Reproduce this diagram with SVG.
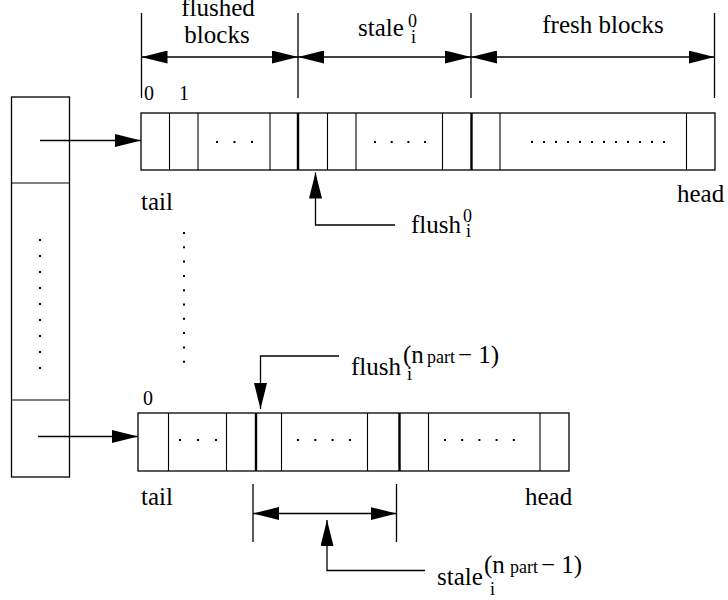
<svg xmlns="http://www.w3.org/2000/svg" width="728" height="600" viewBox="0 0 728 600" font-family="'Liberation Serif', 'Times New Roman', 'DejaVu Serif', serif">
  <style>
    .box { fill: #fff; stroke: #000; stroke-width: 1.3; }
    .div { stroke: #000; stroke-width: 1.1; }
    .thick { stroke: #000; stroke-width: 2.4; }
    .ln { fill: none; stroke: #000; stroke-width: 1.3; }
    .dots { stroke: #000; stroke-width: 2; fill: none; }
    .t { font-size: 25px; font-family: 'Liberation Serif', 'Times New Roman', 'DejaVu Serif', serif; }
    .n { font-size: 20px; font-family: 'Liberation Serif', 'Times New Roman', 'DejaVu Serif', serif; }
    .s { font-size: 18px; font-family: 'Liberation Serif', 'Times New Roman', 'DejaVu Serif', serif; }
  </style>
  <defs>
    <marker id="ah" markerUnits="userSpaceOnUse" markerWidth="26" markerHeight="13" refX="26" refY="6.5" orient="auto-start-reverse">
      <path d="M0,0 L26,6.5 L0,13 z" fill="#000"/>
    </marker>
  </defs>
  <rect width="728" height="600" fill="#fff"/>

  <!-- pointer table on the left -->
  <g id="table">
    <rect class="box" x="11.5" y="97" width="58" height="380"/>
    <line class="div" x1="11.5" y1="183" x2="69.5" y2="183"/>
    <line class="div" x1="11.5" y1="400" x2="69.5" y2="400"/>
    <line class="dots" x1="40" y1="239" x2="40" y2="371" stroke-dasharray="2 14"/>
  </g>

  <!-- first partition buffer -->
  <g id="buffer-top">
    <rect class="box" x="141" y="113" width="574" height="57"/>
    <line class="div" x1="169.5" y1="113" x2="169.5" y2="170"/>
    <line class="div" x1="198" y1="113" x2="198" y2="170"/>
    <line class="div" x1="270" y1="113" x2="270" y2="170"/>
    <line class="thick" x1="298" y1="113" x2="298" y2="170"/>
    <line class="div" x1="327.5" y1="113" x2="327.5" y2="170"/>
    <line class="div" x1="356" y1="113" x2="356" y2="170"/>
    <line class="div" x1="442.5" y1="113" x2="442.5" y2="170"/>
    <line class="thick" x1="471.5" y1="113" x2="471.5" y2="170"/>
    <line class="div" x1="500" y1="113" x2="500" y2="170"/>
    <line class="div" x1="686.5" y1="113" x2="686.5" y2="170"/>
    <line class="dots" x1="216" y1="142" x2="254" y2="142" stroke-dasharray="2 15.5"/>
    <line class="dots" x1="374" y1="142" x2="427" y2="142" stroke-dasharray="2 14.7"/>
    <line class="dots" x1="531" y1="142" x2="666" y2="142" stroke-dasharray="2 10"/>
    <text class="n" x="144" y="100">0</text>
    <text class="n" x="179" y="100">1</text>
    <text class="t" x="141" y="210">tail</text>
    <text class="t" x="677" y="202">head</text>
  </g>

  <!-- vertical ellipsis between buffers -->
  <g id="ellipsis">
    <line class="dots" x1="184" y1="232" x2="184" y2="363" stroke-dasharray="2 12.3"/>
  </g>

  <!-- last partition buffer -->
  <g id="buffer-bottom">
    <rect class="box" x="138" y="413" width="431" height="58"/>
    <line class="div" x1="168.5" y1="413" x2="168.5" y2="471"/>
    <line class="div" x1="226.5" y1="413" x2="226.5" y2="471"/>
    <line class="thick" x1="256" y1="413" x2="256" y2="471"/>
    <line class="div" x1="281.5" y1="413" x2="281.5" y2="471"/>
    <line class="div" x1="367.5" y1="413" x2="367.5" y2="471"/>
    <line class="thick" x1="399.5" y1="413" x2="399.5" y2="471"/>
    <line class="div" x1="428.5" y1="413" x2="428.5" y2="471"/>
    <line class="div" x1="540" y1="413" x2="540" y2="471"/>
    <line class="dots" x1="179" y1="440" x2="219" y2="440" stroke-dasharray="2 16"/>
    <line class="dots" x1="297" y1="440" x2="352" y2="440" stroke-dasharray="2 15.3"/>
    <line class="dots" x1="444" y1="440" x2="516" y2="440" stroke-dasharray="2 15.2"/>
    <text class="n" x="143" y="405">0</text>
    <text class="t" x="141" y="505">tail</text>
    <text class="t" x="525" y="505">head</text>
  </g>

  <!-- region labels -->
  <g id="label-flushed">
    <text class="t" x="218" y="16" text-anchor="middle">flushed</text>
    <text class="t" x="217" y="43" text-anchor="middle">blocks</text>
  </g>
  <g id="label-stale0">
    <text class="t" x="358" y="36">stale</text>
    <text class="s" x="408" y="27">0</text>
    <text class="s" x="411" y="43">i</text>
  </g>
  <g id="label-fresh">
    <text class="t" x="603" y="33" text-anchor="middle">fresh blocks</text>
  </g>
  <g id="label-flush0">
    <text class="t" x="411" y="233">flush</text>
    <text class="s" x="463" y="222">0</text>
    <text class="s" x="466" y="237">i</text>
  </g>
  <g id="label-flushN">
    <text class="t" x="351" y="375">flush</text>
    <text class="t" x="403" y="363">(n</text>
    <text class="s" x="407" y="380">i</text>
    <text class="s" x="427" y="363">part</text>
    <text class="t" x="458" y="363">− 1)</text>
  </g>
  <g id="label-staleN">
    <text class="t" x="437" y="585">stale</text>
    <text class="t" x="484" y="573">(n</text>
    <text class="s" x="490" y="595">i</text>
    <text class="s" x="510" y="573">part</text>
    <text class="t" x="541" y="573">− 1)</text>
  </g>

  <!-- connectors, extent ticks and dimension arrows -->
  <g id="connectors">
    <line class="ln" x1="40" y1="140.5" x2="141" y2="140.5" marker-end="url(#ah)"/>
    <line class="ln" x1="38" y1="436.5" x2="138" y2="436.5" marker-end="url(#ah)"/>

    <line class="ln" x1="141.5" y1="13" x2="141.5" y2="98"/>
    <line class="ln" x1="298" y1="13" x2="298" y2="98"/>
    <line class="ln" x1="471" y1="13" x2="471" y2="98"/>
    <line class="ln" x1="714.5" y1="13" x2="714.5" y2="98"/>
    <line class="ln" x1="141.5" y1="57" x2="298" y2="57" marker-start="url(#ah)" marker-end="url(#ah)"/>
    <line class="ln" x1="298" y1="57" x2="471" y2="57" marker-start="url(#ah)" marker-end="url(#ah)"/>
    <line class="ln" x1="471" y1="57" x2="714.5" y2="57" marker-start="url(#ah)" marker-end="url(#ah)"/>

    <polyline class="ln" points="395,225 315.5,225 315.5,172.5" marker-end="url(#ah)"/>
    <polyline class="ln" points="339,356 260.5,356 260.5,409" marker-end="url(#ah)"/>

    <line class="ln" x1="253" y1="484" x2="253" y2="542"/>
    <line class="ln" x1="396.5" y1="484" x2="396.5" y2="542"/>
    <line class="ln" x1="253" y1="513.5" x2="396.5" y2="513.5" marker-start="url(#ah)" marker-end="url(#ah)"/>
    <polyline class="ln" points="425,570.5 327,570.5 327,520" marker-end="url(#ah)"/>
  </g>
</svg>
